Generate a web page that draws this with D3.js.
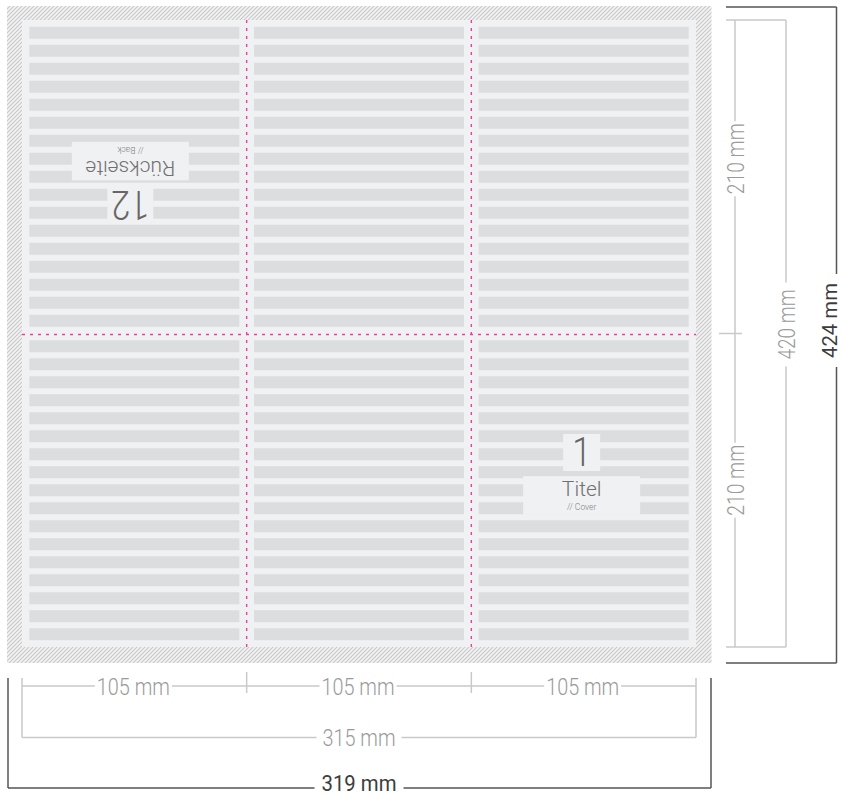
<!DOCTYPE html>
<html>
<head>
<meta charset="utf-8">
<script src="https://cdn.jsdelivr.net/npm/d3@7"></script>
<style>
  body { margin: 0; background: #fff; }
  svg { display: block; }
</style>
</head>
<body>
<div class="myViz"></div>
<script>
// sheet data (mm)
var columns = ["links", "mitte", "rechts"];
var columnWidths = [105, 105, 105];
var halves = ["oben", "unten"];
var halfHeights = [210, 210];
var lineRows = [1, 2, 3, 4, 5, 6, 7, 8, 9, 10, 11, 12, 13, 14, 15, 16, 17];
var widthLabels = ["105 mm", "105 mm", "105 mm"];
var heightLabels = ["210 mm", "210 mm"];
var sheetLabels = ["315 mm", "420 mm"];
var bleedLabels = ["319 mm", "424 mm"];
var pageNumbers = ["12", "1"];
var pageTitles = ["Rückseite", "Titel"];
var pageSubtitles = ["// Back", "// Cover"];
var pageColumns = ["links", "rechts"];
var pageHalves = ["oben", "unten"];

var width = 843, height = 797;
var FONT = "Roboto, 'Open Sans', sans-serif";

var svg = d3.select(".myViz")
  .append("svg")
  .attr("width", width)
  .attr("height", height)
  .style("font-family", FONT);

var sheetW = d3.sum(columnWidths), sheetH = d3.sum(halfHeights);

// scales: mm -> px
var x = d3.scaleLinear().domain([0, sheetW]).range([22, 696]);
var y = d3.scaleLinear().domain([0, sheetH]).range([20, 647]);
var colBand = d3.scaleBand().domain(columns).range([x(0), x(sheetW)]);
var halfBand = d3.scaleBand().domain(halves).range([y(0), y(sheetH)]);

var foldsX = d3.cumsum(columnWidths).slice(0, -1);
var foldsY = d3.cumsum(halfHeights).slice(0, -1);

// hatch pattern for the bleed
var defs = svg.append("defs");
var pat = defs.append("pattern")
  .attr("id", "hatch")
  .attr("patternUnits", "userSpaceOnUse")
  .attr("width", 4).attr("height", 4);
pat.append("rect").attr("width", 4).attr("height", 4).attr("fill", "#f3f3f3");
pat.append("path")
  .attr("d", "M-1,1 l2,-2 M0,4 l4,-4 M3,5 l2,-2")
  .attr("stroke", "#c8c8c8").attr("stroke-width", 1.1);

var bleed = {x0: x(0) - 15, y0: y(0) - 14, x1: x(sheetW) + 15.5, y1: y(sheetH) + 16};

svg.append("rect")
  .attr("x", bleed.x0).attr("y", bleed.y0)
  .attr("width", bleed.x1 - bleed.x0).attr("height", bleed.y1 - bleed.y0)
  .attr("fill", "url(#hatch)");

svg.append("rect")
  .attr("x", x(0)).attr("y", y(0))
  .attr("width", x(sheetW) - x(0)).attr("height", y(sheetH) - y(0))
  .attr("fill", "#f0f1f3");

// text line placeholders
var barW = colBand.bandwidth() - 14.7;
halves.forEach(function(h) {
  var rowBand = d3.scaleBand()
    .domain(lineRows)
    .range([halfBand(h) + 6.75, halfBand(h) + halfBand.bandwidth() - 6.75])
    .paddingInner(1 / 3);
  columns.forEach(function(c) {
    var cx = colBand(c) + colBand.bandwidth() / 2;
    svg.append("g").selectAll("rect")
      .data(lineRows)
      .enter()
      .append("rect")
        .attr("x", cx - barW / 2)
        .attr("y", function(d) { return rowBand(d); })
        .attr("width", barW)
        .attr("height", rowBand.bandwidth())
        .attr("fill", "#dcdddf");
  });
});

// fold lines
var folds = svg.append("g")
  .attr("stroke", "#ee3d9f")
  .attr("stroke-width", 1.4)
  .attr("stroke-dasharray", "3,5");
foldsX.forEach(function(d) {
  folds.append("line").attr("x1", x(d)).attr("x2", x(d)).attr("y1", y(0)).attr("y2", y(sheetH));
});
foldsY.forEach(function(d) {
  var yy = Math.round(y(d)) + 0.5;
  folds.append("line").attr("x1", x(0)).attr("x2", x(sheetW)).attr("y1", yy).attr("y2", yy);
});

// page labels
var pageLayout = [{dx: -4, dy: 141, rot: 180}, {dx: -2, dy: 162, rot: 0}];
pageTitles.forEach(function(t, i) {
  var cx = colBand(pageColumns[i]) + colBand.bandwidth() / 2 + pageLayout[i].dx;
  var cy = halfBand(pageHalves[i]) + pageLayout[i].dy;
  var g = svg.append("g")
    .attr("transform", "translate(" + cx + "," + cy + ") rotate(" + pageLayout[i].rot + ")");

  g.append("rect")
    .attr("x", -58.5).attr("y", -19.3).attr("width", 117).attr("height", 38.5)
    .attr("fill", "#f0f1f3");
  g.append("text")
    .attr("text-anchor", "middle").attr("y", 0)
    .attr("font-size", 21).attr("font-weight", 300).attr("fill", "#707070")
    .text(t);
  g.append("text")
    .attr("text-anchor", "middle").attr("y", 14.5)
    .attr("font-size", 8.5).attr("font-weight", 300).attr("fill", "#808080")
    .text(pageSubtitles[i]);

  var numLen = 19 * pageNumbers[i].length;
  var boxW = Math.max(37, numLen + 8);
  g.append("rect")
    .attr("x", -boxW / 2).attr("y", -61.5).attr("width", boxW).attr("height", 37)
    .attr("fill", "#f0f1f3");
  g.append("text")
    .attr("text-anchor", "middle").attr("y", -30)
    .attr("font-size", 40).attr("font-weight", 300).attr("fill", "#666")
    .attr("textLength", numLen).attr("lengthAdjust", "spacingAndGlyphs")
    .text(pageNumbers[i]);
});

// dimension lines
var light = "#c9c9c9", dark = "#555";
var dims = svg.append("g").attr("fill", "none");

function seg(x1, y1, x2, y2, color) {
  dims.append("line")
    .attr("x1", x1).attr("y1", y1).attr("x2", x2).attr("y2", y2)
    .attr("stroke", color).attr("stroke-width", 1.5);
}

function dimLabel(cx, cy, rot, text, len, opt) {
  var g = svg.append("g").attr("transform", "translate(" + cx + "," + cy + ") rotate(" + rot + ")");
  var bg = g.append("rect").attr("fill", "#fff");
  var t = g.append("text")
    .attr("text-anchor", "middle").attr("dy", "0.36em")
    .attr("font-size", opt.size || 24).attr("font-weight", opt.weight).attr("fill", opt.color)
    .attr("textLength", len).attr("lengthAdjust", "spacingAndGlyphs")
    .text(text);
  var b = t.node().getBBox();
  bg.attr("x", b.x - opt.pad).attr("y", b.y).attr("width", b.width + 2 * opt.pad).attr("height", b.height);
}

var lightOpt = {weight: 300, color: "#9a9a9a", pad: 2};
var darkOpt = {weight: 400, color: "#3d3d3d", pad: 7, size: 22};

// right side
var rx210 = 735, rx420 = 786, rx424 = 836.5;
seg(726, y(0), rx420, y(0), light);
seg(726, y(sheetH), rx420, y(sheetH), light);
seg(rx210, y(0), rx210, y(sheetH), light);
foldsY.forEach(function(d) { seg(719, y(d), 742, y(d), light); });
seg(rx420, y(0), rx420, y(sheetH), light);
seg(726, bleed.y0 + 1, rx424, bleed.y0 + 1, dark);
seg(726, bleed.y1, rx424, bleed.y1, dark);
seg(rx424, bleed.y0 + 1, rx424, bleed.y1, dark);

// bottom
var by105 = 686, by315 = 737.5, by319 = 788;
seg(x(0), by105, x(sheetW), by105, light);
foldsX.forEach(function(d) { seg(x(d), 672, x(d), 693, light); });
seg(x(0), 678, x(0), by315, light);
seg(x(sheetW), 678, x(sheetW), by315, light);
seg(x(0), by315, x(sheetW), by315, light);
seg(bleed.x0 + 1, 678, bleed.x0 + 1, by319, dark);
seg(bleed.x1 - 0.5, 678, bleed.x1 - 0.5, by319, dark);
seg(bleed.x0 + 1, by319, bleed.x1 - 0.5, by319, dark);

// labels
var heightShift = [-18, -10];
heightLabels.forEach(function(l, i) {
  var h = halves[i];
  dimLabel(rx210, halfBand(h) + halfBand.bandwidth() / 2 + heightShift[i], -90, l, 71, lightOpt);
});
widthLabels.forEach(function(l, i) {
  var c = columns[i];
  dimLabel(colBand(c) + colBand.bandwidth() / 2 - 1, by105, 0, l, 73, lightOpt);
});
dimLabel(x(sheetW / 2), by315, 0, sheetLabels[0], 73, {weight: 300, color: "#9a9a9a", pad: 6});
dimLabel(rx420, y(sheetH / 2) - 9, -90, sheetLabels[1], 70, {weight: 300, color: "#9a9a9a", pad: 7});
dimLabel(x(sheetW / 2), by319 - 5, 0, bleedLabels[0], 75, darkOpt);
dimLabel(rx424 - 7.5, y(sheetH / 2) - 13, -90, bleedLabels[1], 75, {weight: 400, color: "#3d3d3d", pad: 9, size: 21});
</script>
</body>
</html>
